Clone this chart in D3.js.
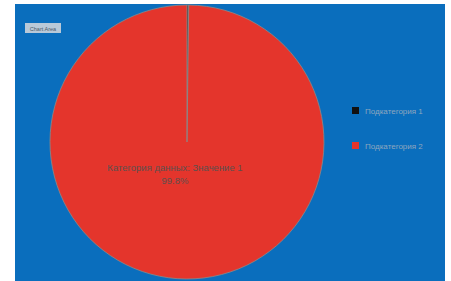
<!DOCTYPE html>
<html lang="en">
<head>
    <meta charset="UTF-8">
    <title>Pie chart</title>
    <style>
        body { margin: 0; background: #ffffff; }
        svg { display: block; font-family: "Liberation Sans", Arial, sans-serif; }
    </style>
</head>
<body>
<div id="chart"></div>
<script src="https://d3js.org/d3.v7.min.js"></script>
<script>
    // Data
    var categories = ["Подкатегория 1", "Подкатегория 2"];
    var values = [0.2, 99.8];
    var colors = ["#111111", "#e4352c"];
    var centerLabel = ["Категория данных: Значение 1", "99.8%"];

    var width = 451, height = 281;

    var svg = d3.select("#chart").append("svg")
        .attr("width", width)
        .attr("height", height);

    // chart area background
    svg.append("rect")
        .attr("x", 15).attr("y", 4)
        .attr("width", 430).attr("height", 277)
        .attr("fill", "#0a6ebd");

    // little "Chart Area" tag top left
    svg.append("rect")
        .attr("x", 25).attr("y", 23)
        .attr("width", 36).attr("height", 10)
        .attr("fill", "#b9c9d8");
    svg.append("text")
        .attr("x", 43).attr("y", 30.5)
        .attr("text-anchor", "middle")
        .attr("font-size", 5.5)
        .attr("fill", "#4a5a6a")
        .text("Chart Area");

    var cx = 187, cy = 142, r = 137;

    var pie = d3.pie().sort(null).value(d => d);
    var arc = d3.arc().innerRadius(0).outerRadius(r);

    var g = svg.append("g").attr("transform", "translate(" + cx + "," + cy + ")");

    g.selectAll("path")
        .data(pie(values))
        .enter().append("path")
        .attr("d", arc)
        .attr("fill", (d, i) => colors[i])
        .attr("stroke", "#8a8a8a")
        .attr("stroke-width", 0.8);

    // data label in the middle of the big slice
    g.selectAll(".lbl")
        .data(centerLabel)
        .enter().append("text")
        .attr("class", "lbl")
        .attr("x", -12)
        .attr("y", (d, i) => 29 + i * 13)
        .attr("text-anchor", "middle")
        .attr("font-size", 9.5)
        .attr("fill", "#5e4f4d")
        .text(d => d);

    // legend
    var legend = svg.append("g").attr("transform", "translate(352,0)");
    var items = legend.selectAll("g")
        .data(categories)
        .enter().append("g")
        .attr("transform", (d, i) => "translate(0," + (111 + i * 35) + ")");

    items.append("rect")
        .attr("x", 0).attr("y", -4)
        .attr("width", 7).attr("height", 7)
        .attr("fill", (d, i) => colors[i]);

    items.append("text")
        .attr("x", 13).attr("y", 3)
        .attr("font-size", 8)
        .attr("fill", "#8fa6be")
        .text(d => d);
</script>
</body>
</html>
